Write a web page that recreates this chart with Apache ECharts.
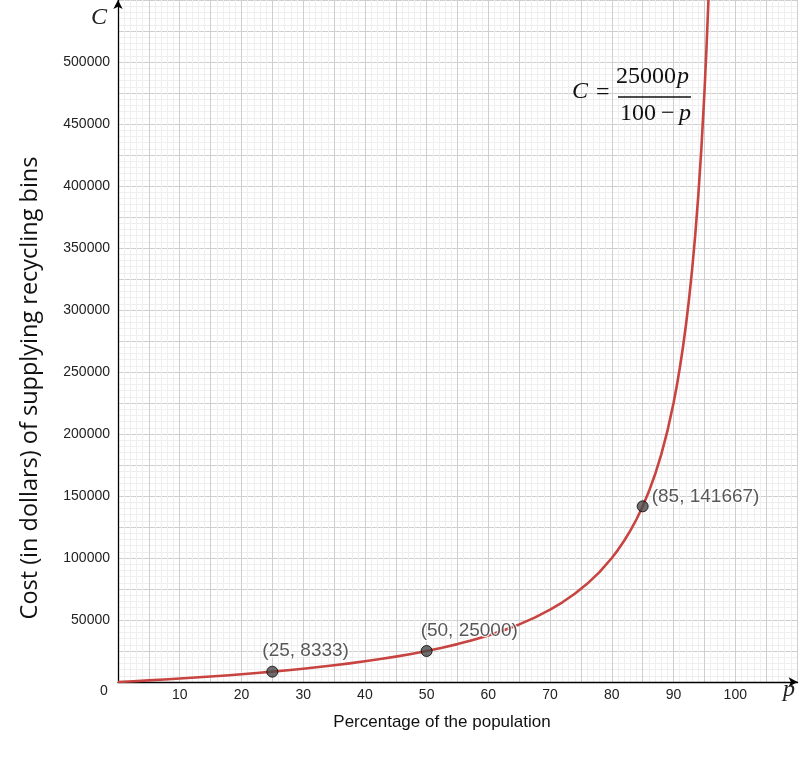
<!DOCTYPE html>
<html>
<head>
<meta charset="utf-8">
<script src="https://cdn.jsdelivr.net/npm/echarts@6/dist/echarts.min.js"></script>
<style>html,body{margin:0;padding:0;background:#fff}#c{width:800px;height:770px}</style>
</head>
<body>
<div id="c"></div>
<script>
// Curve samples (p, C)
const curveP = [0, 2.5, 5, 7.5, 10, 12.5, 15, 17.5, 20, 22.5, 25, 27.5, 30, 32.5, 35, 37.5, 40, 42.5, 45, 47.5, 50, 52.5, 55, 57.5, 60, 62.5, 65, 67.5, 70, 72, 74, 76, 78, 80, 81, 82, 83, 84, 85, 86, 87, 88, 89, 90, 90.5, 91, 91.5, 92, 92.5, 93, 93.5, 94, 94.5, 95, 95.3, 95.6, 95.8];
const curveC = [0, 641, 1316, 2027, 2778, 3571, 4412, 5303, 6250, 7258, 8333, 9483, 10714, 12037, 13462, 15000, 16667, 18478, 20455, 22619, 25000, 27632, 30556, 33824, 37500, 41667, 46429, 51923, 58333, 64286, 71154, 79167, 88636, 100000, 106579, 113889, 122059, 131250, 141667, 153571, 167308, 183333, 202273, 225000, 238158, 252778, 269118, 287500, 308333, 332143, 359615, 391667, 429545, 475000, 506915, 543182, 570238];
// Marked points
const pointP = [25, 50, 85];
const pointC = [8333, 25000, 141667];
const pointLabels = ['(25, 8333)', '(50, 25000)', '(85, 141667)'];
const labelPos = [[-4, -15], [0, -14], [15, -4]];

const chart = echarts.init(document.getElementById('c'), null, {renderer: 'canvas'});
const serif = 'Liberation Serif';
const g = (o) => Object.assign({z: 100, zlevel: 0}, o);
chart.setOption({
  backgroundColor: '#fff',
  animation: false,
  grid: {left: 118, right: 0, top: 0, bottom: 88, containLabel: false},
  xAxis: {
    type: 'value', min: 0, max: 110.1, interval: 5,
    axisLine: {show: true, lineStyle: {color: '#000', width: 1.3}, symbol: ['none', 'arrow'], symbolSize: [7, 9]},
    axisTick: {show: false},
    axisLabel: {
      color: '#222', fontSize: 14, fontFamily: 'Liberation Sans', margin: 6, showMaxLabel: false,
      formatter: v => (v > 0 && v <= 100 && Math.round(v) % 10 === 0) ? String(Math.round(v)) : ''
    },
    splitLine: {show: true, lineStyle: {color: '#cfcfcf', width: 1}},
    minorTick: {show: false, splitNumber: 5},
    minorSplitLine: {show: true, lineStyle: {color: '#efefef', width: 1}}
  },
  yAxis: {
    type: 'value', min: 0, max: 550000, interval: 25000,
    axisLine: {show: true, lineStyle: {color: '#000', width: 1.3}, symbol: ['none', 'arrow'], symbolSize: [7, 9]},
    axisTick: {show: false},
    axisLabel: {
      color: '#222', fontSize: 14, fontFamily: 'Liberation Sans', margin: 8, showMaxLabel: false,
      formatter: v => (v > 0 && v <= 500000 && v % 50000 === 0) ? String(v) : ''
    },
    splitLine: {show: true, lineStyle: {color: '#cfcfcf', width: 1}},
    minorTick: {show: false, splitNumber: 5},
    minorSplitLine: {show: true, lineStyle: {color: '#efefef', width: 1}}
  },
  series: [
    {
      type: 'line', data: curveP.map((p, i) => [p, curveC[i]]),
      showSymbol: false, smooth: false, clip: true,
      lineStyle: {color: '#c74440', width: 2.6, join: 'round'}, z: 3
    },
    {
      type: 'scatter', symbolSize: 11, z: 5,
      itemStyle: {color: '#4a4a4a', borderColor: '#000', borderWidth: 1},
      data: pointP.map((p, i) => ({
        value: [p, pointC[i]],
        label: {
          show: true, formatter: pointLabels[i], position: labelPos[i], align: 'left', verticalAlign: 'middle',
          color: '#2e2e2e', fontSize: 19, fontFamily: 'Liberation Sans',
          textBorderColor: '#fff', textBorderWidth: 2.5
        }
      }))
    }
  ],
  graphic: [
    g({type: 'text', left: 91, top: 6, style: {text: 'C', font: 'italic 24px ' + serif, fill: '#222'}}),
    g({type: 'text', left: 783, top: 678, style: {text: 'p', font: 'italic 24px ' + serif, fill: '#222'}}),
    g({type: 'text', left: 100, top: 684, style: {text: '0', font: '14px Liberation Sans', fill: '#222'}}),
    g({type: 'text', x: 442, y: 722, style: {text: 'Percentage of the population', font: '17px Liberation Sans', fill: '#111', align: 'center', verticalAlign: 'middle'}}),
    g({type: 'text', x: 30, y: 388, rotation: Math.PI / 2, style: {text: 'Cost (in dollars) of supplying recycling bins', font: '23.5px Open Sans', fill: '#111', align: 'center', verticalAlign: 'middle'}}),
    // formula
    g({type: 'text', x: 572, y: 92, style: {text: 'C', font: 'italic 24px ' + serif, fill: '#111', verticalAlign: 'middle'}}),
    g({type: 'text', x: 596, y: 93, style: {text: '=', font: '24px ' + serif, fill: '#111', verticalAlign: 'middle'}}),
    g({type: 'text', x: 676, y: 77, style: {text: '25000', font: '24px ' + serif, fill: '#111', align: 'right', verticalAlign: 'middle'}}),
    g({type: 'text', x: 677, y: 77, style: {text: 'p', font: 'italic 24px ' + serif, fill: '#111', align: 'left', verticalAlign: 'middle'}}),
    g({type: 'line', shape: {x1: 618, y1: 97, x2: 691, y2: 97}, style: {stroke: '#111', lineWidth: 1.3}}),
    g({type: 'text', x: 620, y: 114, style: {text: '100', font: '24px ' + serif, fill: '#111', verticalAlign: 'middle'}}),
    g({type: 'text', x: 661, y: 114, style: {text: '\u2212', font: '24px ' + serif, fill: '#111', verticalAlign: 'middle'}}),
    g({type: 'text', x: 679, y: 114, style: {text: 'p', font: 'italic 24px ' + serif, fill: '#111', verticalAlign: 'middle'}})
  ]
});
</script>
</body>
</html>
